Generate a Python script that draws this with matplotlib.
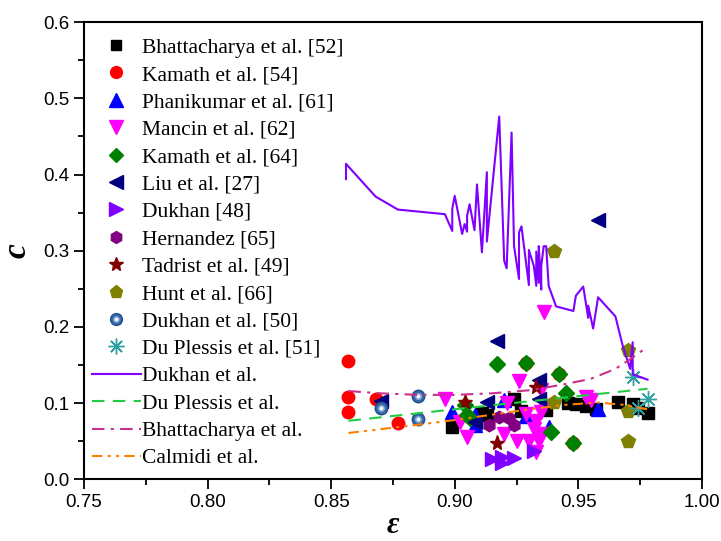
import matplotlib
matplotlib.use("Agg")
import matplotlib.pyplot as plt
from matplotlib.ticker import MultipleLocator, FormatStrFormatter
from matplotlib.legend_handler import HandlerTuple

# Experimental data: porosity (eps) vs inertial coefficient (c)
bhat_eps = [0.899, 0.911, 0.913, 0.924, 0.927, 0.937, 0.946, 0.949, 0.953, 0.957, 0.966, 0.972, 0.974, 0.978]
bhat_c = [0.069, 0.087, 0.085, 0.105, 0.090, 0.091, 0.100, 0.099, 0.097, 0.092, 0.101, 0.099, 0.094, 0.087]

kam54_eps = [0.857, 0.857, 0.857, 0.868, 0.877, 0.929, 0.942, 0.948]
kam54_c = [0.156, 0.108, 0.088, 0.106, 0.074, 0.153, 0.138, 0.048]

phani_eps = [0.899, 0.908, 0.908, 0.920, 0.929, 0.938, 0.958]
phani_c = [0.089, 0.084, 0.071, 0.104, 0.083, 0.069, 0.092]

mancin_eps = [0.896, 0.902, 0.905, 0.920, 0.921, 0.926, 0.925, 0.929, 0.930, 0.932,
              0.933, 0.933, 0.934, 0.935, 0.935, 0.936, 0.935, 0.936, 0.953, 0.955]
mancin_c = [0.105, 0.075, 0.056, 0.060, 0.100, 0.129, 0.050, 0.086, 0.050, 0.066,
            0.077, 0.036, 0.050, 0.060, 0.088, 0.096, 0.118, 0.220, 0.108, 0.104]

kam64_eps = [0.904, 0.905, 0.906, 0.917, 0.929, 0.939, 0.942, 0.945, 0.948]
kam64_c = [0.098, 0.085, 0.080, 0.151, 0.153, 0.062, 0.138, 0.114, 0.048]

liu_eps = [0.870, 0.908, 0.913, 0.917, 0.934, 0.934, 0.958]
liu_c = [0.103, 0.075, 0.101, 0.182, 0.130, 0.105, 0.340]

dukhan48_eps = [0.915, 0.919, 0.919, 0.924, 0.932]
dukhan48_c = [0.027, 0.021, 0.030, 0.028, 0.038]

hern_eps = [0.914, 0.918, 0.922, 0.924]
hern_c = [0.071, 0.082, 0.080, 0.072]

tadrist_eps = [0.904, 0.917, 0.933]
tadrist_c = [0.101, 0.048, 0.121]

hunt_eps = [0.940, 0.940, 0.970, 0.970, 0.970]
hunt_c = [0.300, 0.101, 0.170, 0.090, 0.051]

dukhan50_eps = [0.870, 0.885, 0.885]
dukhan50_c = [0.094, 0.110, 0.079]

dup51_eps = [0.972, 0.978, 0.974]
dup51_c = [0.134, 0.106, 0.094]

# Model curves
dukhan_line_eps = [0.856, 0.856, 0.868, 0.877, 0.896, 0.899, 0.899, 0.900, 0.903, 0.904,
                   0.905, 0.905, 0.906, 0.908, 0.909, 0.911, 0.913, 0.913, 0.918, 0.920,
                   0.921, 0.923, 0.924, 0.926, 0.926, 0.927, 0.930, 0.930, 0.932, 0.933,
                   0.933, 0.934, 0.934, 0.935, 0.935, 0.936, 0.937, 0.938, 0.941, 0.948,
                   0.949, 0.952, 0.954, 0.954, 0.956, 0.958, 0.965, 0.968, 0.971, 0.972,
                   0.972, 0.978]
dukhan_line_c = [0.394, 0.414, 0.371, 0.354, 0.348, 0.326, 0.355, 0.372, 0.322, 0.335,
                 0.325, 0.346, 0.361, 0.327, 0.387, 0.298, 0.403, 0.312, 0.476, 0.287,
                 0.277, 0.455, 0.306, 0.263, 0.324, 0.332, 0.255, 0.301, 0.280, 0.254,
                 0.299, 0.258, 0.306, 0.249, 0.280, 0.306, 0.306, 0.254, 0.227, 0.221,
                 0.241, 0.253, 0.212, 0.228, 0.198, 0.239, 0.214, 0.175, 0.145, 0.180,
                 0.138, 0.131]

dup_line_eps = [0.857, 0.917, 0.978]
dup_line_c = [0.077, 0.098, 0.119]

bhat_line_eps = [0.857, 0.870, 0.885, 0.900, 0.915, 0.930, 0.943, 0.955, 0.965, 0.972, 0.978]
bhat_line_c = [0.116, 0.113, 0.111, 0.111, 0.113, 0.117, 0.124, 0.132, 0.145, 0.160, 0.174]

calm_line_eps = [0.857, 0.870, 0.883, 0.900, 0.915, 0.930, 0.945, 0.958, 0.968, 0.978]
calm_line_c = [0.061, 0.066, 0.071, 0.078, 0.085, 0.092, 0.098, 0.101, 0.098, 0.092]

plt.rcParams['font.family'] = ['Liberation Serif', 'DejaVu Serif']

fig = plt.figure(figsize=(7.21, 5.41), dpi=100)
ax = fig.add_axes([0.1165, 0.1137, 0.857, 0.8456])

ms = 9
h_bhat, = ax.plot(bhat_eps, bhat_c, 's', color='black', ms=8, label='Bhattacharya et al. [52]')
h_kam54, = ax.plot(kam54_eps, kam54_c, 'o', color='#FF0000', ms=ms, label='Kamath et al. [54]')
h_phani, = ax.plot(phani_eps, phani_c, '^', color='#0000FF', ms=10, label='Phanikumar et al. [61]')
h_mancin, = ax.plot(mancin_eps, mancin_c, 'v', color='#FF00FF', ms=10, label='Mancin et al. [62]')
h_kam64, = ax.plot(kam64_eps, kam64_c, 'D', color='#008000', ms=8, label='Kamath et al. [64]')
h_liu, = ax.plot(liu_eps, liu_c, '<', color='#000080', ms=10, label='Liu et al. [27]')
h_duk48, = ax.plot(dukhan48_eps, dukhan48_c, '>', color='#8000FF', ms=10, label='Dukhan [48]')
h_hern, = ax.plot(hern_eps, hern_c, 'h', color='#800080', ms=ms, label='Hernandez [65]')
h_tad, = ax.plot(tadrist_eps, tadrist_c, '*', color='#800000', ms=11, label='Tadrist et al. [49]')
h_hunt, = ax.plot(hunt_eps, hunt_c, 'p', color='#808000', ms=10, label='Hunt et al. [66]')
# shaded sphere markers
h_sph, = ax.plot(dukhan50_eps, dukhan50_c, 'o', color='#3468A8', mec='#24508A', ms=ms)
h_sph2, = ax.plot(dukhan50_eps, dukhan50_c, 'o', color='#8FB0DA', mec='none', ms=5)
h_sph3, = ax.plot(dukhan50_eps, dukhan50_c, 'o', color='white', mec='none', ms=2.5)
h_dup51, = ax.plot(dup51_eps, dup51_c, marker=(8, 2, 0), ls='none', color='#30A0A0',
                   ms=12, mew=1.0, label='Du Plessis et al. [51]')

h_l1, = ax.plot(dukhan_line_eps, dukhan_line_c, '-', color='#8000FF', lw=1.5, zorder=4,
                label='Dukhan et al.')
h_l2, = ax.plot(dup_line_eps, dup_line_c, color='#22CC44', lw=1.5, dashes=(6, 4), zorder=4,
                label='Du Plessis et al.')
h_l3, = ax.plot(bhat_line_eps, bhat_line_c, color='#C8308C', lw=1.5, dashes=(6, 3, 1.5, 3), zorder=4,
                label='Bhattacharya et al.')
h_l4, = ax.plot(calm_line_eps, calm_line_c, color='#FF8000', lw=1.5,
                dashes=(5, 2.5, 1.5, 2.5, 1.5, 2.5), zorder=4, label='Calmidi et al.')

ax.set_xlim(0.75, 1.00)
ax.set_ylim(0.0, 0.6)
ax.xaxis.set_major_locator(MultipleLocator(0.05))
ax.xaxis.set_minor_locator(MultipleLocator(0.025))
ax.yaxis.set_major_locator(MultipleLocator(0.1))
ax.yaxis.set_minor_locator(MultipleLocator(0.05))
ax.xaxis.set_major_formatter(FormatStrFormatter('%.2f'))
ax.yaxis.set_major_formatter(FormatStrFormatter('%.1f'))
ax.tick_params(which='major', direction='out', length=7, width=1.3, labelsize=13.5)
ax.tick_params(which='minor', direction='out', length=4, width=1.3)
for lbl in ax.get_xticklabels() + ax.get_yticklabels():
    lbl.set_family('Liberation Sans')
for sp in ax.spines.values():
    sp.set_linewidth(1.5)

ax.set_xlabel('ε', fontsize=22, fontweight='bold', fontstyle='italic', labelpad=0)
ax.set_ylabel('c', fontsize=24, fontweight='bold', fontstyle='italic', labelpad=8)

handles = [h_bhat, h_kam54, h_phani, h_mancin, h_kam64, h_liu, h_duk48, h_hern, h_tad,
           h_hunt, (h_sph, h_sph2, h_sph3), h_dup51, h_l1, h_l2, h_l3, h_l4]
labels = ['Bhattacharya et al. [52]', 'Kamath et al. [54]', 'Phanikumar et al. [61]',
          'Mancin et al. [62]', 'Kamath et al. [64]', 'Liu et al. [27]', 'Dukhan [48]',
          'Hernandez [65]', 'Tadrist et al. [49]', 'Hunt et al. [66]', 'Dukhan et al. [50]',
          'Du Plessis et al. [51]', 'Dukhan et al.', 'Du Plessis et al.', 'Bhattacharya et al.',
          'Calmidi et al.']
ax.legend(handles, labels, loc='upper left', bbox_to_anchor=(0.0125, 0.966), frameon=False,
          fontsize=15.5, handlelength=2.3, handletextpad=0.05, labelspacing=0.34, borderpad=0,
          borderaxespad=0, markerscale=0.95,
          handler_map={tuple: HandlerTuple(ndivide=1, pad=0)})

fig.savefig('out.png', dpi=100)
